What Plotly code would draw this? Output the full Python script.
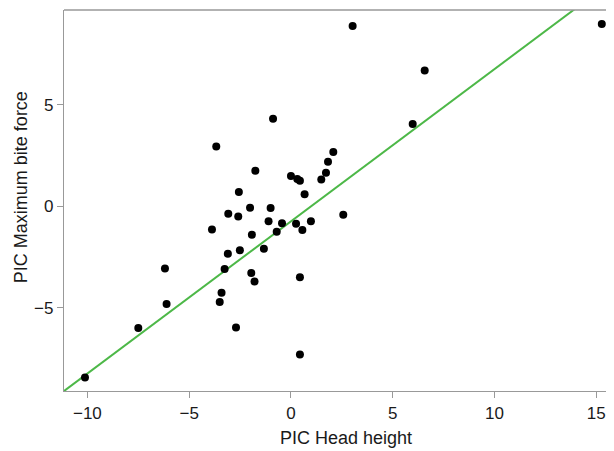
import plotly.graph_objects as go

# PIC (phylogenetically independent contrasts) values
head_height = [-0.88, -3.67, 2.08, 1.82, 1.72, 1.49, -1.75, 0.00, 0.31, 0.44,
               0.67, -2.56, -3.08, -2.59, -2.01, -1.00, 2.57, -3.88, -1.10, -0.44,
               0.25, 0.98, 0.56, -0.70, -1.92, -3.10, -2.51, -1.33, -3.26, -1.95,
               -1.79, 0.44, -3.41, -3.50, -2.70, 0.44, -6.19, -6.11, -7.50, -10.12,
               6.57, 5.98, 15.27, 3.03]
bite_force = [4.30, 2.94, 2.66, 2.18, 1.64, 1.31, 1.74, 1.48, 1.33, 1.25,
              0.58, 0.69, -0.38, -0.51, -0.08, -0.10, -0.43, -1.15, -0.75, -0.84,
              -0.87, -0.75, -1.18, -1.26, -1.41, -2.35, -2.18, -2.10, -3.10, -3.30,
              -3.71, -3.50, -4.27, -4.73, -5.98, -7.31, -3.07, -4.83, -6.01, -8.44,
              6.68, 4.04, 8.97, 8.87]

fit_slope = 0.75
fit_intercept = -0.75
fit_x = [-11.15, 16.0]

x_ticks = [-10, -5, 0, 5, 10, 15]
y_ticks = [-5, 0, 5]

x_range = [-11.15, 15.87]
y_range = [-9.11, 9.66]

x_title = "PIC Head height"
y_title = "PIC Maximum bite force"

font_family = "Liberation Sans, Arial, Helvetica, sans-serif"
axis_gray = "#999999"
text_color = "#1a1a1a"

fig = go.Figure()
fig.add_trace(go.Scatter(
    x=fit_x, y=[fit_intercept + fit_slope * v for v in fit_x],
    mode="lines", line=dict(color="#4db848", width=2), hoverinfo="skip",
    showlegend=False))
fig.add_trace(go.Scatter(
    x=head_height, y=bite_force, mode="markers",
    marker=dict(color="black", size=8, line=dict(width=0)),
    showlegend=False, cliponaxis=False))

def minus(v):
    return str(v).replace("-", "\u2212")

# the page body adds an 8px margin, so the figure is sized/margined to compensate
fig.update_layout(
    width=606, height=443,
    margin=dict(l=56, r=0, t=2, b=60),
    paper_bgcolor="white", plot_bgcolor="white",
    font=dict(family=font_family, size=17, color=text_color),
    xaxis=dict(range=x_range, tickvals=x_ticks, ticktext=[minus(v) for v in x_ticks],
               showgrid=False, zeroline=False, showline=True,
               linecolor=axis_gray, linewidth=1.2,
               ticks="outside", ticklen=6, tickcolor=axis_gray, tickwidth=1,
               tickfont=dict(size=17)),
    yaxis=dict(range=y_range, tickvals=y_ticks, ticktext=[minus(v) for v in y_ticks],
               showgrid=False, zeroline=False, showline=True,
               linecolor=axis_gray, linewidth=1.2,
               ticks="outside", ticklen=6, tickcolor=axis_gray, tickwidth=1,
               tickfont=dict(size=17)),
    shapes=[dict(type="line", xref="paper", yref="paper", x0=0, x1=1, y0=1, y1=1,
                 line=dict(color=axis_gray, width=1.5))],
    annotations=[
        dict(text=x_title, xref="paper", yref="paper", x=0.513, y=0,
             xanchor="center", yanchor="middle", yshift=-47,
             showarrow=False, font=dict(size=18)),
        dict(text=y_title, xref="paper", yref="paper", x=0, y=0.535,
             xanchor="center", yanchor="middle", xshift=-43, textangle=-90,
             showarrow=False, font=dict(size=18)),
    ],
)

fig.write_html("out.html")
